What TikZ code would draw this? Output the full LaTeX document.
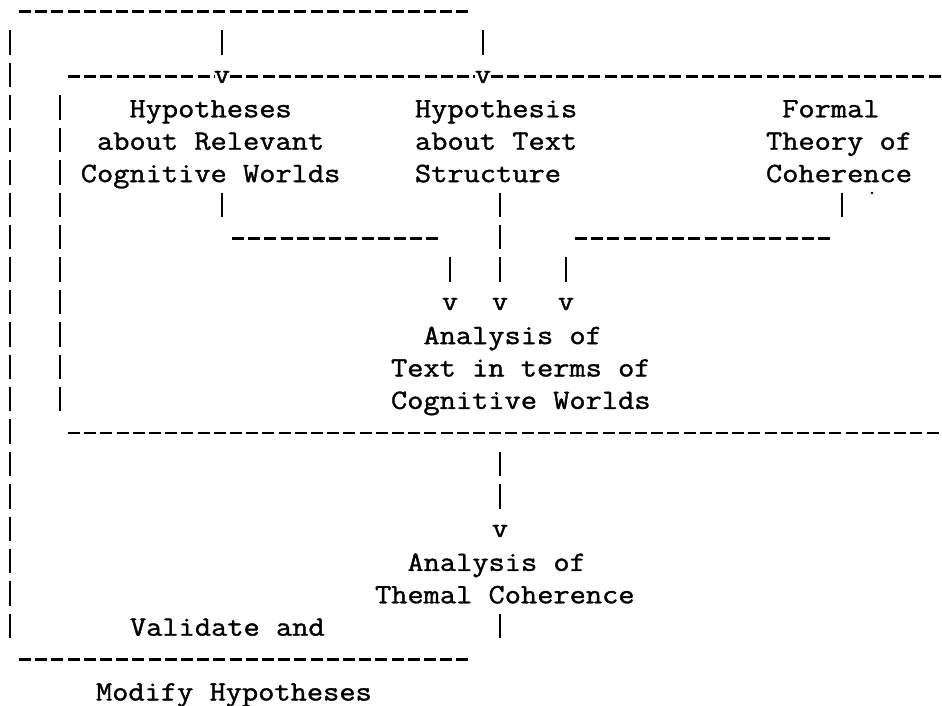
\documentclass[tikz,border=0pt]{standalone}
\font\lmtw="[lmmono12-regular]:embolden=1.2" at 28pt
\newcommand{\monol}[1]{\scalebox{1.125}[1]{\begin{tabular}[t]{@{}l@{}}#1\end{tabular}}}
\newcommand{\monoc}[1]{\scalebox{1.125}[1]{\begin{tabular}[t]{@{}c@{}}#1\end{tabular}}}
\newcommand{\monov}{\scalebox{1.125}[1]{v}}
\tikzset{
  txt/.style={inner sep=0pt, outer sep=0pt, font=\fontsize{28}{32.4}\selectfont\lmtw},
  hdash/.style={line width=2.6pt, dash pattern=on 12pt off 4.2pt},
  vbar/.style={line width=2.5pt, dash pattern=on 24.5pt off 7.9pt},
}
\begin{document}
\begin{tikzpicture}[x=1pt,y=-1pt]
\fill[white] (0,0) rectangle (942,706);
\useasboundingbox (0,0) rectangle (942,706);

% text blocks
\node[txt, anchor=base] (hrel) at (210.6,117.3) {\monoc{Hypotheses\\about Relevant\\Cognitive Worlds}};
\node[txt, anchor=base west] (hts) at (415,117.3) {\monol{Hypothesis\\about Text\\Structure}};
\node[txt, anchor=base west] (fth) at (766,117.3) {\monol{\ Formal\\Theory of\\Coherence}};
\node[txt, anchor=base west] (atw) at (391,344.1) {\monol{\ \ Analysis of\\Text in terms of\\Cognitive Worlds}};
\node[txt, anchor=base west] (atc) at (375,570.9) {\monol{\ \ Analysis of\\Themal Coherence}};
\node[txt, anchor=base west] (val) at (130,635.7) {\monol{Validate and}};
\node[txt, anchor=base west] (mod) at (96,700.5) {\monol{Modify Hypotheses}};

% arrow heads (typed v)
\node[txt, anchor=base] (v1) at (222,83) {\monov};
\node[txt, anchor=base] (v2) at (483,83) {\monov};
\node[txt, anchor=base] (v3) at (450,310) {\monov};
\node[txt, anchor=base] (v4) at (500,310) {\monov};
\node[txt, anchor=base] (v5) at (566,310) {\monov};
\node[txt, anchor=base] (v6) at (500,537) {\monov};

% named points of the dashed rules
\coordinate (topL) at (19,11.6);   \coordinate (topR) at (470,11.6);
\coordinate (frL) at (68,76.4);    \coordinate (frR) at (942,76.4);
\coordinate (mlL) at (232,238.4);  \coordinate (mlR) at (442,238.4);
\coordinate (mrL) at (575,238.4);  \coordinate (mrR) at (832,238.4);
\coordinate (fbL) at (68,432.8);   \coordinate (fbR) at (942,432.8);
\coordinate (botL) at (19,659.6);  \coordinate (botR) at (470,659.6);
\coordinate (olT) at (10,30.5);    \coordinate (olB) at (10,638.2);
\coordinate (ilT) at (60,95.3);    \coordinate (ilB) at (60,411.4);

% horizontal dashed rules
\draw[hdash] (topL) -- (topR);
\draw[hdash] (frL) -- (frL -| v1.west);
\draw[hdash] (frL -| v1.east) -- (frL -| v2.west);
\draw[hdash] (frL -| v2.east) -- (frR);
\draw[hdash] (mlL) -- (mlR);
\draw[hdash] (mrL) -- (mrR);
\draw[hdash] (fbL) -- (fbR);
\draw[hdash] (botL) -- (botR);

% vertical bars
\draw[vbar] (olT) -- (olB);
\draw[vbar] (ilT) -- (ilB);
\draw[vbar] (v1 |- 0,30.5) -- (v1 |- 0,55);
\draw[vbar] (v2 |- 0,30.5) -- (v2 |- 0,55);
\draw[vbar] (222,192.5) -- (222,217);
\draw[vbar] (v4 |- 0,192.5) -- (v4 |- 0,281.8);
\draw[vbar] (842,192.5) -- (842,217);
\draw[vbar] (v3 |- 0,257.3) -- (v3 |- 0,281.8);
\draw[vbar] (v5 |- 0,257.3) -- (v5 |- 0,281.8);
\draw[vbar] (v6 |- 0,451.7) -- (v6 |- 0,508.6);
\draw[vbar] (v6 |- 0,613.7) -- (v6 |- 0,638.2);

% stray dot of the original
\fill (872,193) circle (1.3);
\end{tikzpicture}
\end{document}
